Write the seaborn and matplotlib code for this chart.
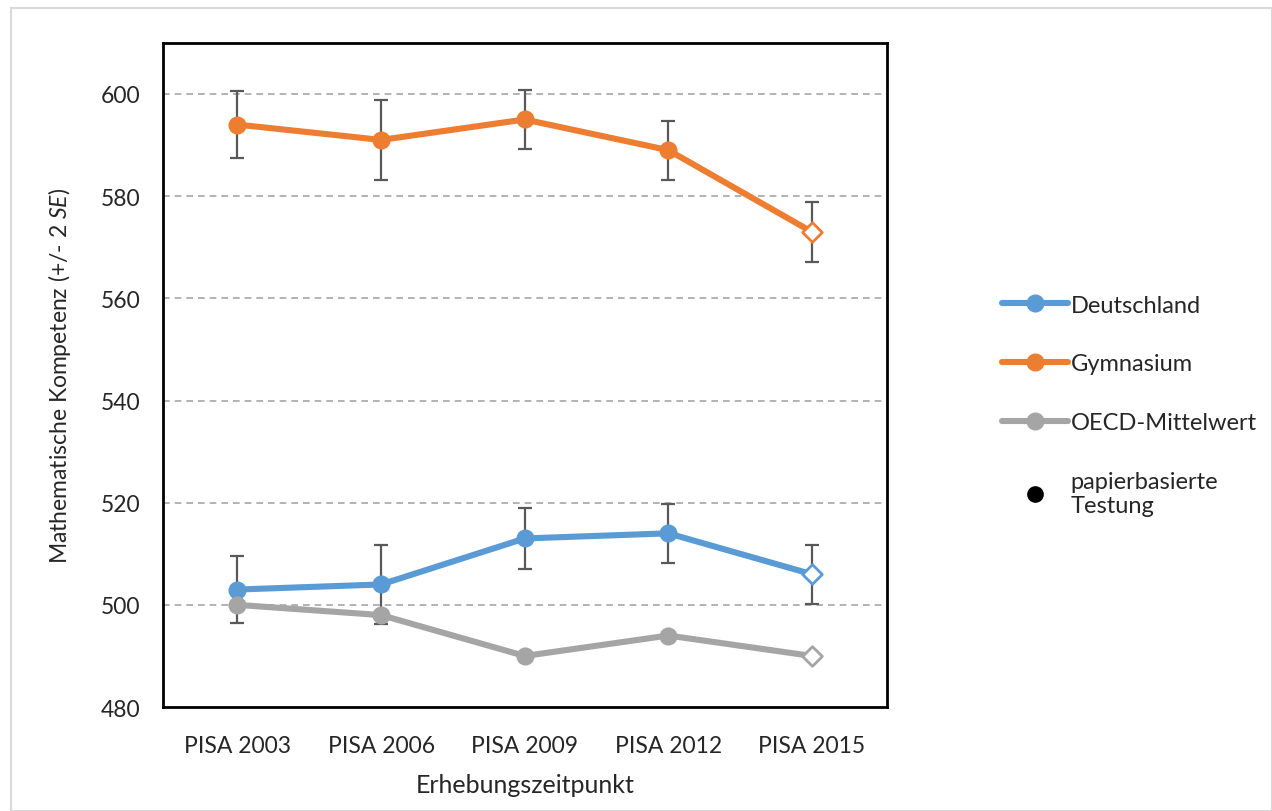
import matplotlib
matplotlib.use("Agg")
import matplotlib.pyplot as plt
from matplotlib.lines import Line2D
from matplotlib.patches import Rectangle
import seaborn as sns
import pandas as pd

# data
wellen = ["PISA 2003", "PISA 2006", "PISA 2009", "PISA 2012", "PISA 2015"]
deutschland = [503, 504, 513, 514, 506]
deutschland_fehler = [6.5, 7.7, 5.9, 5.8, 5.8]
gymnasium = [594, 591, 595, 589, 573]
gymnasium_fehler = [6.6, 7.8, 5.8, 5.8, 5.8]
oecd = [500, 498, 490, 494, 490]
oecd_fehler = [0.6, 0.5, 0.5, 0.5, 0.5]
papierbasiert = [True, True, True, True, False]

farben = {"Deutschland": "#5B9BD5", "Gymnasium": "#ED7D31", "OECD-Mittelwert": "#A5A5A5"}

sns.set_style("white")
plt.rcParams["font.family"] = ["Lato", "DejaVu Sans"]
plt.rcParams["mathtext.fontset"] = "custom"
plt.rcParams["mathtext.it"] = "Lato:italic"
plt.rcParams["mathtext.rm"] = "Lato"

rows = []
for name, werte, fehler in [("Deutschland", deutschland, deutschland_fehler),
                            ("Gymnasium", gymnasium, gymnasium_fehler),
                            ("OECD-Mittelwert", oecd, oecd_fehler)]:
    for i, (w, f, p) in enumerate(zip(werte, fehler, papierbasiert)):
        rows.append({"gruppe": name, "x": i, "welle": wellen[i], "wert": w, "se2": f, "papier": p})
df = pd.DataFrame(rows)

fig = plt.figure(figsize=(12.72, 8.12), dpi=100)
ax = fig.add_axes([0.128, 0.128, 0.569, 0.818])

# error bars
for name in farben:
    d = df[df.gruppe == name]
    ax.errorbar(d.x, d.wert, yerr=d.se2, fmt="none", ecolor="#595959",
                elinewidth=1.6, capsize=5, capthick=1.6, zorder=2)

sns.lineplot(data=df, x="x", y="wert", hue="gruppe", palette=farben,
             linewidth=4.4, ax=ax, legend=False, zorder=3)
for name, c in farben.items():
    d = df[(df.gruppe == name) & df.papier]
    ax.scatter(d.x, d.wert, s=170, color=c, zorder=4, linewidths=0)
    d = df[(df.gruppe == name) & ~df.papier]
    ax.scatter(d.x, d.wert, s=100, marker="D", facecolor="white", edgecolor=c,
               linewidths=2, zorder=4)
    ax.scatter(d.x, d.wert, s=80, marker=[(0, 1), (0.6, 0), (0, -1), (-0.6, 0)],
               facecolor="white", edgecolor="none", zorder=4)

ax.set_xlim(-0.52, 4.52)
ax.set_ylim(480, 610)
ax.set_xticks(range(len(wellen)))
ax.set_xticklabels(wellen)
ax.set_yticks([480, 500, 520, 540, 560, 580, 600])
for y in [500, 520, 540, 560, 580, 600]:
    ax.axhline(y, color="#A6A6A6", linestyle=(0, (4, 3)), linewidth=1.2, zorder=1)
for s in ax.spines.values():
    s.set_color("black")
    s.set_linewidth(2)
ax.tick_params(axis="x", direction="inout", length=12, width=1.6, labelsize=16.5, pad=14)
ax.tick_params(axis="y", direction="out", length=6, width=1.6, labelsize=16.5, pad=10)
ax.set_xlabel("Erhebungszeitpunkt", fontsize=18, labelpad=12)
ax.set_ylabel("Mathematische Kompetenz (+/- 2 $\\mathit{SE}$)", fontsize=16.5, labelpad=20)

handles = [Line2D([0], [0], color=c, linewidth=4.4, marker="o", markersize=12) for c in farben.values()]
handles.append(Line2D([0], [0], color="none", marker="o", markerfacecolor="black",
                      markeredgecolor="black", markersize=11))
labels = list(farben.keys()) + ["papierbasierte\nTestung"]
fig.legend(handles, labels, loc="upper left", bbox_to_anchor=(0.771, 0.662),
           frameon=False, fontsize=17, labelspacing=1.6, handlelength=2.8,
           handletextpad=0.1)

fig.patches.append(Rectangle((0.009, 0.0), 0.991, 0.989, transform=fig.transFigure,
                             fill=False, edgecolor="#D9D9D9", linewidth=1.5))

fig.savefig("out.png", dpi=100)
